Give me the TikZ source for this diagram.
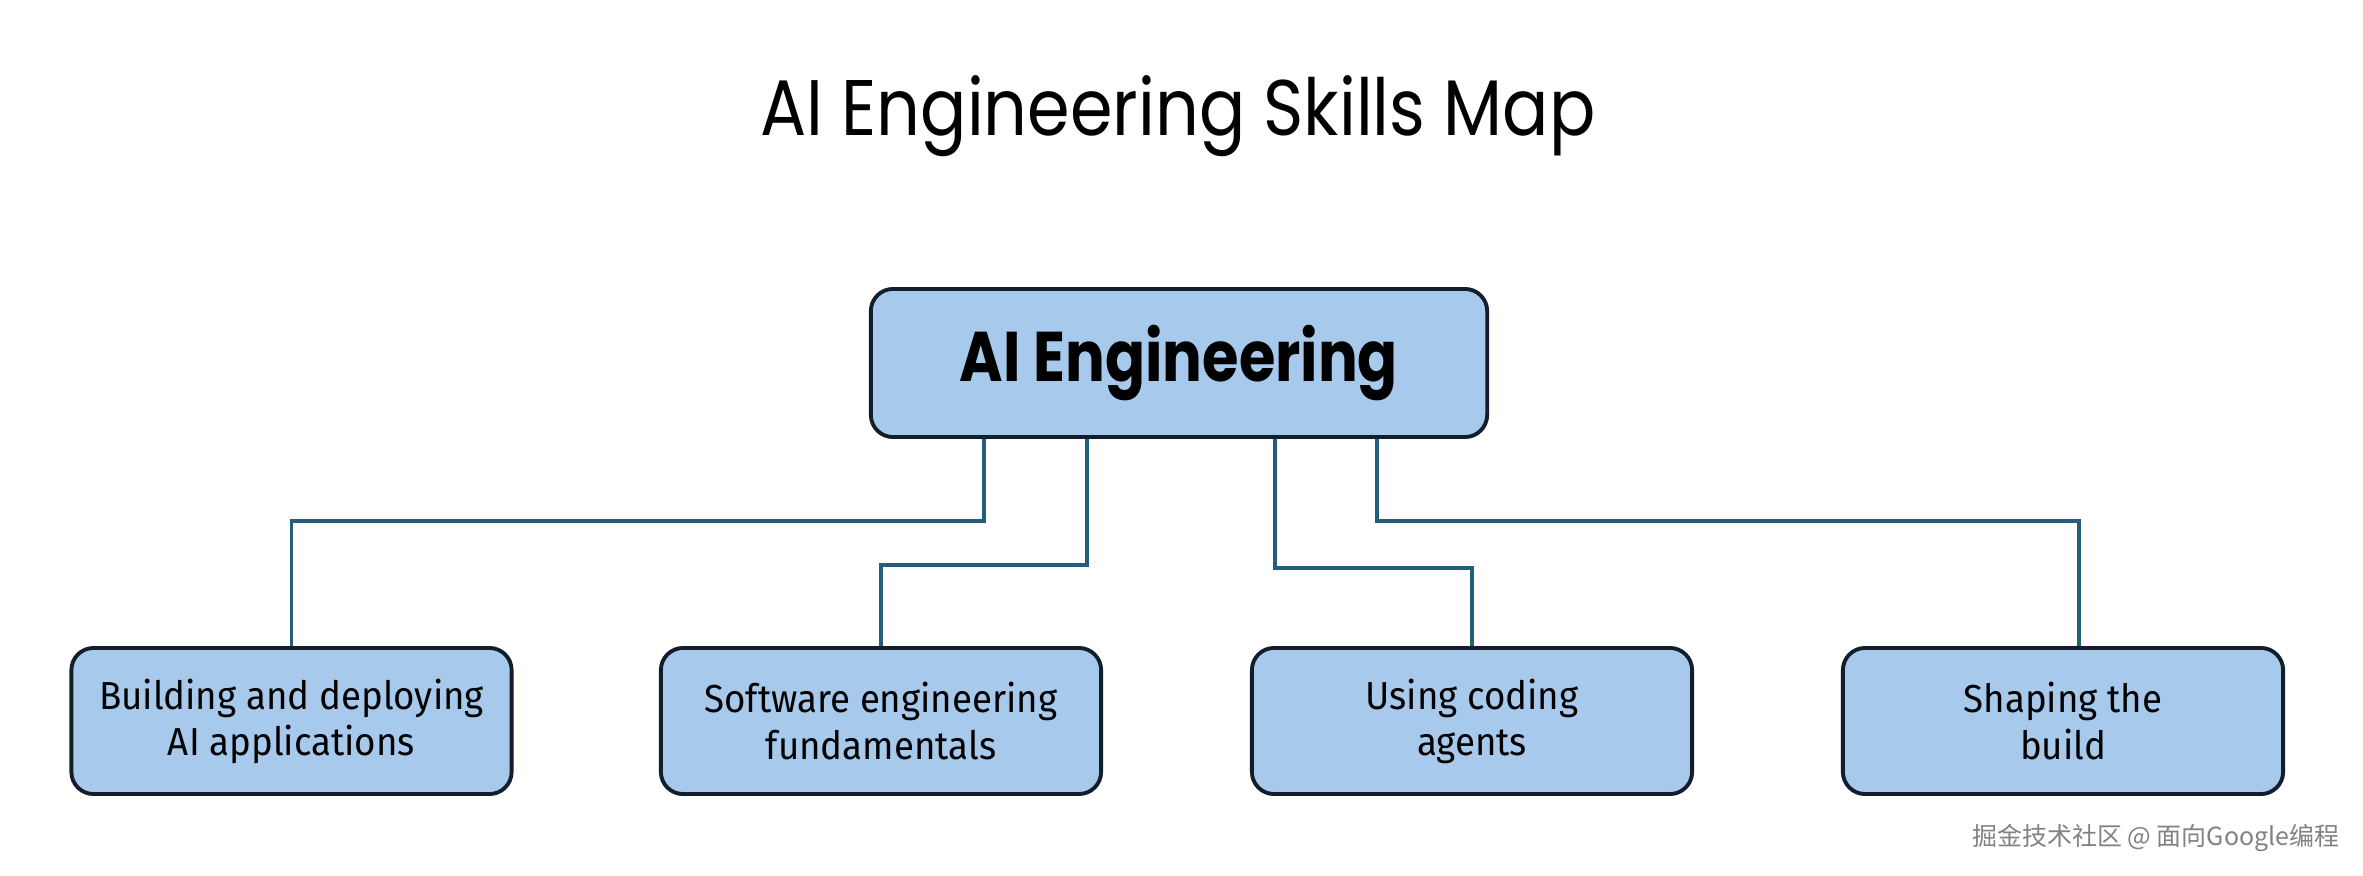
\documentclass[tikz,border=0pt]{standalone}
\usepackage{fontspec}
\setmainfont{Fira Sans}[FakeStretch=0.94]
\newfontfamily\poppins{Poppins}[FakeStretch=0.87]
\newfontfamily\poppinsbold{Poppins}[UprightFont=* Bold,FakeStretch=0.84]
\newfontfamily\cjk{Noto Sans CJK SC}
\definecolor{boxfill}{RGB}{167,202,236}
\definecolor{boxline}{RGB}{18,30,44}
\definecolor{conn}{RGB}{36,94,124}
\definecolor{wmark}{RGB}{130,130,130}
\begin{document}
\begin{tikzpicture}[x=0.01cm,y=-0.01cm,
  rootbox/.style={draw=boxline,fill=boxfill,line width=1.1pt,rounded corners=6.3pt,
    minimum width=6.16cm,minimum height=1.48cm,inner sep=0pt,
    font=\poppinsbold\fontsize{20}{24}\selectfont},
  skillbox/.style={draw=boxline,fill=boxfill,line width=1.1pt,rounded corners=6.3pt,
    minimum width=4.40cm,minimum height=1.46cm,inner sep=0pt,align=center,
    font=\fontsize{11.1}{13.1}\selectfont},
  link/.style={draw=conn,line width=0.95pt}]
\useasboundingbox (0,0) rectangle (2363,876);
\fill[white] (0,0) rectangle (2363,876);
\node[anchor=base,font=\poppins\fontsize{22.4}{27}\selectfont] (title) at (1178,136) {AI Engineering Skills Map};
\node[rootbox] (root) at (1179,363) {AI Engineering};
\node[skillbox] (s1) at (291.5,721) {Building and deploying\\AI applications};
\node[skillbox] (s2) at (881,721) {Software engineering\\fundamentals};
\node[skillbox] (s3) at (1472,721) {Using coding\\agents};
\node[skillbox] (s4) at (2063,721) {Shaping the\\build};
\draw[link] (root.south -| 984,0) |- (291.5,521) -- (s1.north);
\draw[link] (root.south -| 1087,0) |- (881,565) -- (s2.north);
\draw[link] (root.south -| 1275,0) |- (1472,568) -- (s3.north);
\draw[link] (root.south -| 1377,0) |- (2079,521) -- (s4.north -| 2079,0);
\node[anchor=east,inner sep=0pt,font=\cjk\fontsize{7.1}{9}\selectfont,text=wmark] (wm) at (2340,838) {掘金技术社区 @ 面向Google编程};
\end{tikzpicture}
\end{document}
